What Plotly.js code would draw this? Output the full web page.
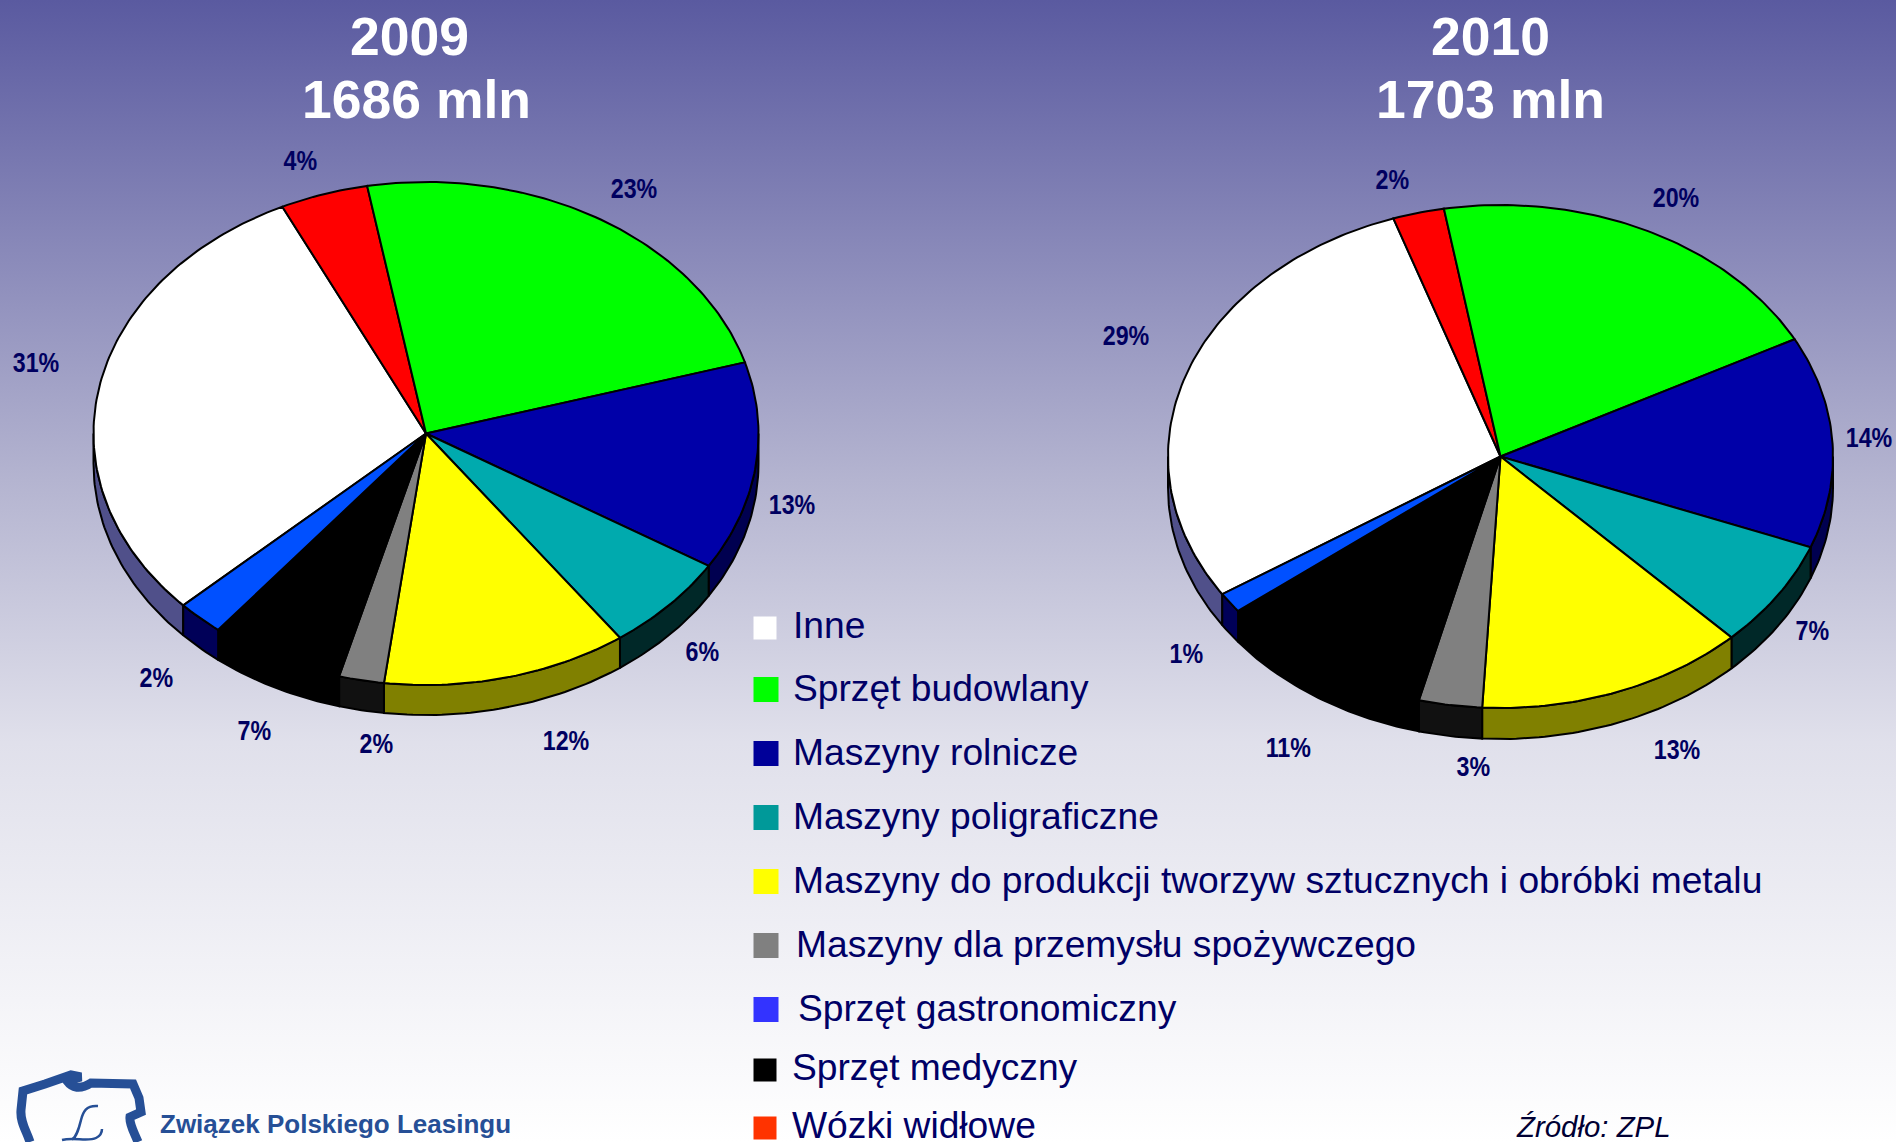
<!DOCTYPE html>
<html lang="pl">
<head>
<meta charset="utf-8">
<script src="https://cdn.plot.ly/plotly-3.0.1.min.js"></script>
<style>
html,body{margin:0;padding:0;width:1896px;height:1142px;overflow:hidden;}
#chart{width:1896px;height:1142px;background:linear-gradient(180deg,#5a5aa0 0%,#b4b4d0 42%,#e0e0eb 65%,#ffffff 100%);}
</style>
</head>
<body>
<div id="chart"></div>
<script>
// ---- data ----
const sliceCategories = ['Inne','Wózki widłowe','Sprzęt budowlany','Maszyny rolnicze','Maszyny poligraficzne','Maszyny do produkcji tworzyw sztucznych i obróbki metalu','Maszyny dla przemysłu spożywczego','Sprzęt medyczny','Sprzęt gastronomiczny'];
const shares2009 = [29.86,4.28,23.27,13.39,6.26,11.93,2.19,6.54,2.28];
const shares2010 = [29.0,2.5,20.0,13.6,6.9,13.1,3.07,10.53,1.3];
const labels2009 = ['31%','4%','23%','13%','6%','12%','2%','7%','2%'];
const labels2010 = ['29%','2%','20%','14%','7%','13%','3%','11%','1%'];
const titles2009 = ['2009','1686 mln'];
const titles2010 = ['2010','1703 mln'];
const legendCategories = ['Inne','Sprzęt budowlany','Maszyny rolnicze','Maszyny poligraficzne','Maszyny do produkcji tworzyw sztucznych i obróbki metalu','Maszyny dla przemysłu spożywczego','Sprzęt gastronomiczny','Sprzęt medyczny','Wózki widłowe'];

// ---- styles ----
const sliceColors = ['#ffffff','#ff0000','#00ff00','#0000a8','#00aaae','#ffff00','#808080','#000000','#0050ff'];
const wallColors  = ['#50508a','#800000','#008000','#000050','#002828','#808000','#111111','#000000','#000058'];
const legendColors = ['#ffffff','#00ff00','#000099','#009999','#ffff00','#808080','#3333ff','#000000','#ff3300'];
const legendMarkerSizes = [23,25,25,25,25,25,25,23,23];
const legendMarkerX = [765,766,766,766,766,766,766,765,765];
const legendMarkerY = [628,689.5,753.5,817.5,881.5,945.5,1009.5,1070,1128];
const legendTextX = [791,791,791,791,791,793.5,796,790,790];
const legendTextY = [624.7,687.7,751.8,815.8,879.8,943.8,1007.8,1066.8,1124.5];
const NAVY = '#000060';
const FONT = 'Liberation Sans, Arial, sans-serif';

// ---- layout geometry ----
const pie2009 = {cx:426,cy:433.5,rx:332.5,ry:251.5,depth:30,start:226.9};
const pie2010 = {cx:1500.5,cy:456.5,rx:332.5,ry:251.5,depth:31,start:236.8};
const labelPos2009 = [[36,362],[300,160],[634,188],[792,504],[702,651],[566,740],[376,743],[254,730],[156,677]];
const labelPos2010 = [[1126,335],[1392,179],[1676,197],[1869,437],[1812,630],[1677,749],[1473,766],[1288,747],[1186,653]];
const titlePos2009 = [[409,36],[416,99]];
const titlePos2010 = [[1490,36],[1490,99]];
const LABEL_CONDENSE = 0.83;

const rad = d => d*Math.PI/180;
function rim(p,deg,dy){return [p.cx+p.rx*Math.sin(rad(deg)), p.cy-p.ry*Math.cos(rad(deg))+(dy||0)];}
function arc(p,a,b,dy){const pts=[];const n=Math.max(2,Math.ceil((b-a)));for(let i=0;i<=n;i++){pts.push(rim(p,a+(b-a)*i/n,dy));}return pts;}

function pieTraces(p,shares,year){
  const total=shares.reduce((s,v)=>s+v,0);
  const walls=[],tops=[];
  let a=p.start;
  shares.forEach((v,i)=>{
    const b=a+v/total*360;
    [[90,270],[450,630]].forEach(([lo0,hi0])=>{
      const lo=Math.max(a,lo0),hi=Math.min(b,hi0);
      if(hi>lo){
        const up=arc(p,lo,hi,0),down=arc(p,lo,hi,p.depth).reverse();
        const pts=up.concat(down);pts.push(up[0]);
        walls.push({type:'scatter',mode:'lines',x:pts.map(q=>q[0]),y:pts.map(q=>q[1]),fill:'toself',fillcolor:wallColors[i],line:{color:'#000',width:2},hoverinfo:'skip',showlegend:false});
      }
    });
    const edge=arc(p,a,b,0);
    const pts=[[p.cx,p.cy]].concat(edge,[[p.cx,p.cy]]);
    tops.push({type:'scatter',mode:'lines',name:sliceCategories[i]+' '+year,x:pts.map(q=>q[0]),y:pts.map(q=>q[1]),fill:'toself',fillcolor:sliceColors[i],line:{color:'#000',width:2},hoverinfo:'name',showlegend:false});
    a=b;
  });
  return walls.concat(tops);
}

const legendTrace = legendCategories.map((c,i)=>({type:'scatter',mode:'markers',name:c,x:[legendMarkerX[i]],y:[legendMarkerY[i]],marker:{symbol:'square',size:legendMarkerSizes[i],color:legendColors[i],line:{width:0}},hoverinfo:'name',showlegend:false}));

const ann=[];
function txt(text,x,y,size,color,opts){ann.push(Object.assign({text,x,y,xref:'x',yref:'y',showarrow:false,xanchor:'center',yanchor:'middle',font:{size,color,family:FONT}},opts||{}));}
titles2009.forEach((t,i)=>txt('<b>'+t+'</b>',titlePos2009[i][0],titlePos2009[i][1],53.5,'#ffffff'));
titles2010.forEach((t,i)=>txt('<b>'+t+'</b>',titlePos2010[i][0],titlePos2010[i][1],53.5,'#ffffff'));
labels2009.forEach((t,i)=>txt('<b>'+t+'</b>',labelPos2009[i][0],labelPos2009[i][1],28,NAVY));
labels2010.forEach((t,i)=>txt('<b>'+t+'</b>',labelPos2010[i][0],labelPos2010[i][1],28,NAVY));
legendCategories.forEach((t,i)=>txt(t,legendTextX[i],legendTextY[i],37.2,'#000066',{xanchor:'left'}));
txt('<i>Źródło: ZPL</i>',1514,1126,29.4,'#000033',{xanchor:'left'});
txt('<b>Związek Polskiego Leasingu</b>',158,1124,26,'#264f96',{xanchor:'left'});

// logo: outline of the country and the script letter, purely decorative
const logoOutline='M30,1142 C26,1130 20,1122 21,1110 L23,1091 L45,1084 L71,1075 L81,1077 L67,1081 C72,1088 80,1090 91,1083 L133,1084 L139,1098 L141,1112 L130,1117 C129,1124 134,1132 138,1142';
const logoLetter='M98,1106 C86,1105 83,1112 81,1120 C79,1128 77,1136 72,1140 M62,1140 C74,1137 88,1142 96,1138 C100,1136 102,1132 102,1129';

const layout={
  width:1896,height:1142,margin:{l:0,r:0,t:0,b:0},
  paper_bgcolor:'rgba(0,0,0,0)',plot_bgcolor:'rgba(0,0,0,0)',
  showlegend:false,hovermode:'closest',
  xaxis:{range:[0,1896],visible:false,fixedrange:true},
  yaxis:{range:[1142,0],visible:false,fixedrange:true},
  annotations:ann,
  shapes:[
    {type:'path',path:logoOutline,xref:'x',yref:'y',line:{color:'#264f96',width:9}},
    {type:'path',path:logoLetter,xref:'x',yref:'y',line:{color:'#264f96',width:2.5}}
  ]
};
Plotly.newPlot('chart',pieTraces(pie2009,shares2009,'2009').concat(pieTraces(pie2010,shares2010,'2010'),legendTrace),layout,{displayModeBar:false}).then(gd=>{
  // the reference's percent labels are set in a condensed bold face
  gd.querySelectorAll('.annotation text').forEach(t=>{
    if(/^\d+%$/.test(t.textContent.trim())){
      t.style.transformBox='fill-box';
      t.style.transformOrigin='center';
      t.style.transform='scaleX('+LABEL_CONDENSE+')';
    }
  });
});
</script>
</body>
</html>
